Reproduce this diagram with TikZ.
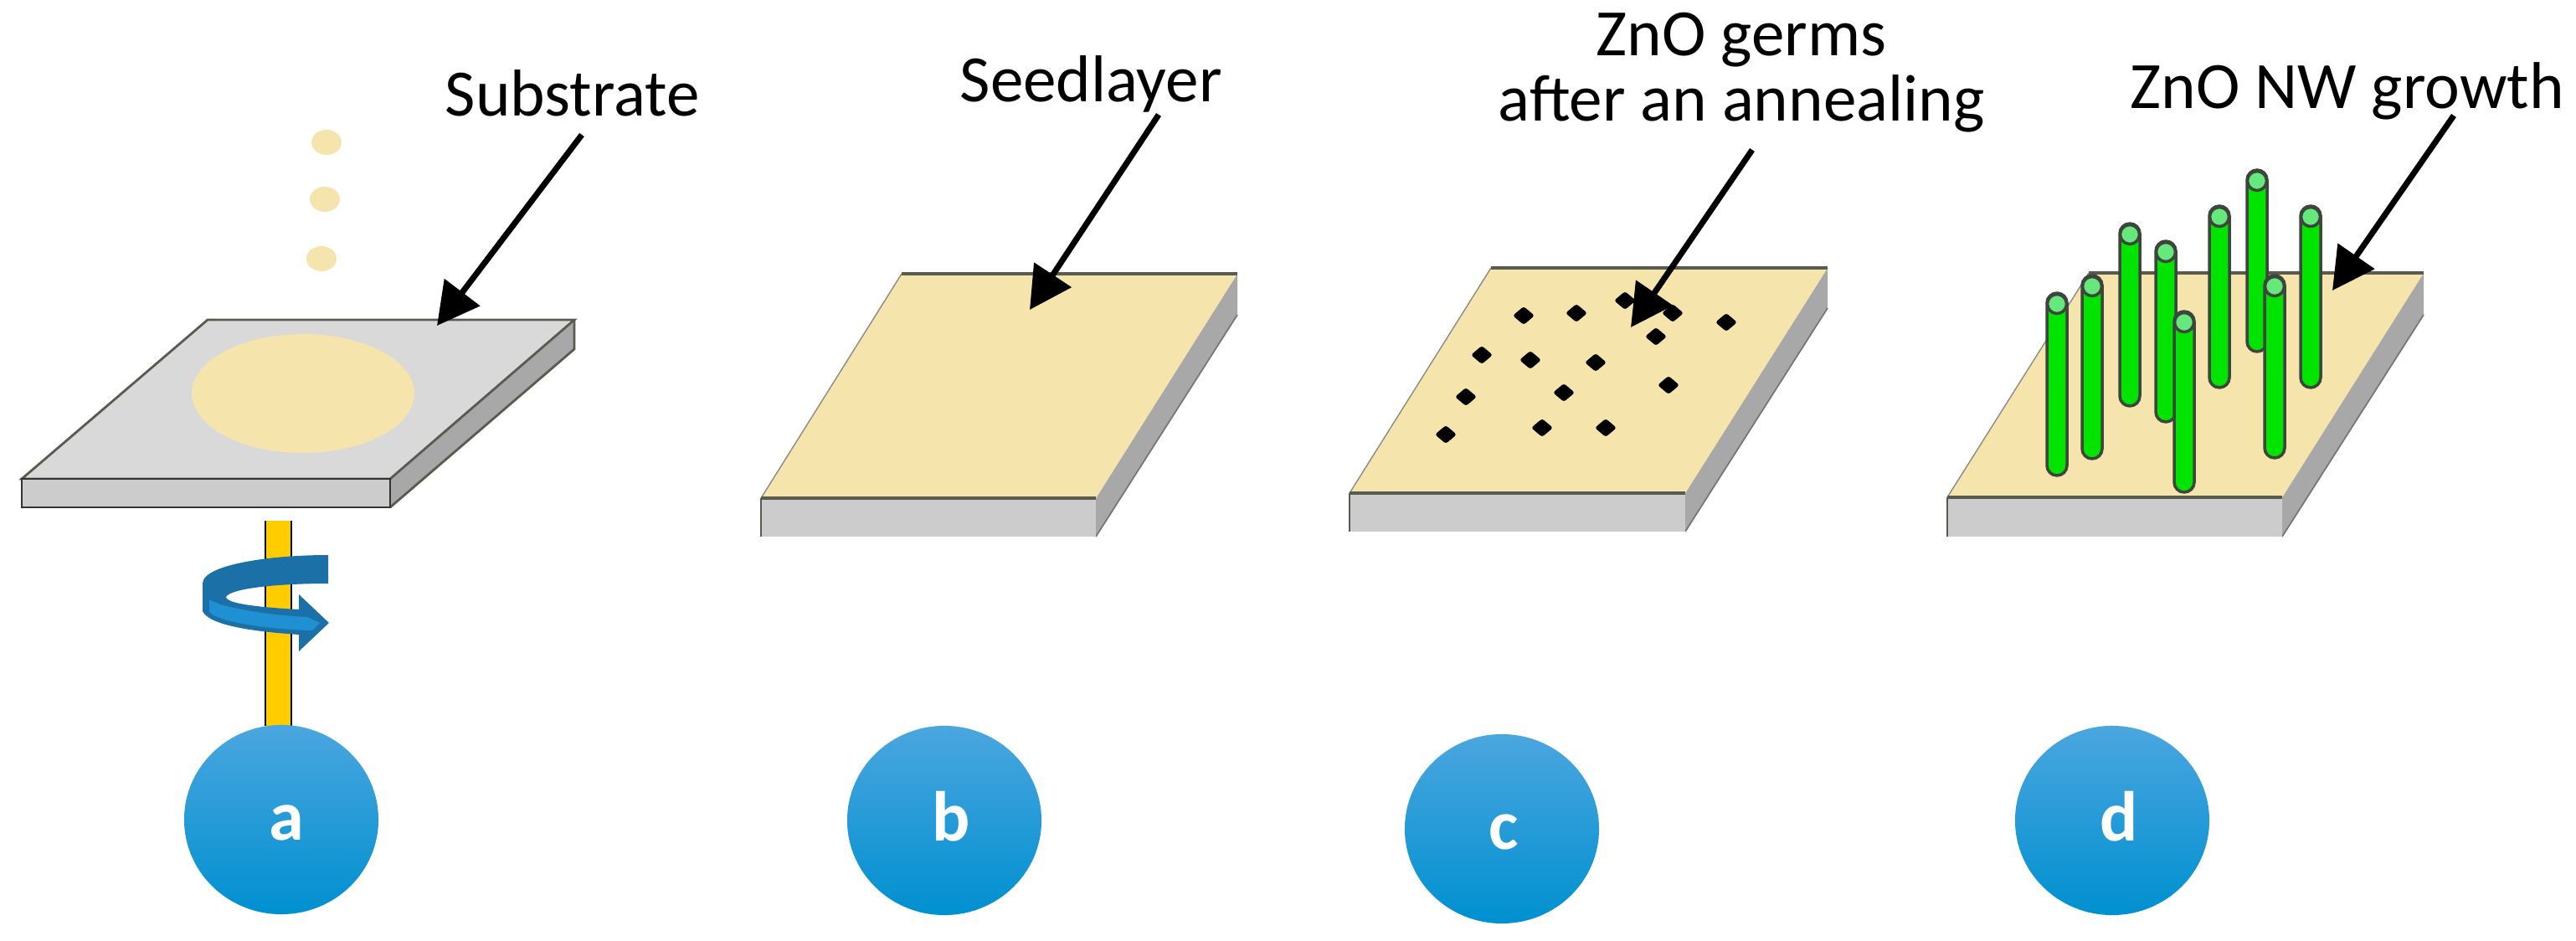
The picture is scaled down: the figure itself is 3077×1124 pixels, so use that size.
\documentclass[tikz,border=0pt]{standalone}
\usepackage{fontspec}
\setmainfont{Carlito}
\usetikzlibrary{arrows.meta,shapes.geometric}
\tikzset{>={Triangle[length=5mm,width=5.2mm]}}
\definecolor{seedyellow}{HTML}{F5E5AC}
\definecolor{slabtop}{HTML}{D9D9D9}
\definecolor{slabfront}{HTML}{CCCCCC}
\definecolor{slabside}{HTML}{A8A8A8}
\definecolor{slabedge}{HTML}{5A5A50}
\definecolor{rodyellow}{HTML}{FFCC00}
\definecolor{spindark}{HTML}{1C70A8}
\definecolor{spinlight}{HTML}{1F90D2}
\definecolor{wiregreen}{HTML}{00E400}
\definecolor{wirecap}{HTML}{66E87C}
\definecolor{wireedge}{HTML}{3C463C}
\definecolor{stepblue}{HTML}{009EDF}
\definecolor{steptop}{HTML}{4BA6DF}
\definecolor{stepbottom}{HTML}{0090D0}
\tikzset{
	pointer/.style={->,line width=2pt,color=black},
	caption/.style={inner sep=0pt,font=\fontsize{22.5}{22.5}\selectfont,color=black},
	stepball/.style={ellipse,inner sep=0pt,minimum width=2.32cm,minimum height=2.26cm,top color=steptop,middle color=stepblue,bottom color=stepbottom,text=white,text height=4.8mm,text depth=0pt,font=\fontsize{24}{24}\selectfont\bfseries},
	wire/.style={draw=wireedge,fill=wiregreen,line width=1pt,rounded corners=0.12cm},
	wiretip/.style={draw=wireedge,fill=wirecap,line width=1pt}
}

\begin{document}
\begin{tikzpicture}[x=0.01cm,y=-0.01cm]
	\useasboundingbox (0,0) rectangle (3077,1124);

	% rod under the first slab
	\fill [rodyellow] (317,622) rectangle (348,867);
	\draw [line width=0.8pt] (317,622) -- (317,867) (348,622) -- (348,867);

	% spin arrow
	\fill [spindark] (392,663) .. controls (320,663) and (242,675) .. (242,697) -- (242,730) .. controls (250,748) and (310,755) .. (357,758) -- (357,778) -- (393,744) -- (357,710) -- (357,728) .. controls (320,726) and (270,722) .. (270,713) .. controls (275,703) and (330,697) .. (392,697) -- cycle;
	\fill [spinlight] (250,716) .. controls (262,725) and (320,735) .. (367,737) -- (382,744) -- (373,753) .. controls (320,752) and (255,742) .. (250,730) -- cycle;

	% first slab, grey
	\fill [slabside] (466,572) -- (686,382) -- (686,417) -- (466,606) -- cycle;
	\draw [slabedge,line width=0.8pt] (466,606) -- (686,417) -- (686,382);
	\draw [slabedge,fill=slabtop,line width=0.8pt] (26,572) -- (248,382) -- (686,382) -- (466,572) -- cycle;
	\draw [black!80,fill=slabfront,line width=0.8pt] (26,572) rectangle (466,606);
	\fill [seedyellow] (362,470) ellipse [x radius=133,y radius=71];

	% falling drops
	\foreach \x/\y in {390/170,388/238,384/309}
		\fill [seedyellow] (\x,\y) ellipse [x radius=18,y radius=15];

	% the three coated slabs
	\foreach \xa/\xb/\xc/\xd/\ya/\yb/\yc/\yd in {1077/1478/909/1309/327/595/641/376,1781/2183/1612/2013/320/589/635/368,2495/2895/2326/2726/326/594/641/376} {
		\fill [slabside] (\xd,\yb) -- (\xb,\ya) -- (\xb,\yd) -- (\xd,\yc) -- cycle;
		\draw [slabside!70!black,line width=0.5pt] (\xd,\yc) -- (\xb,\yd);
		\fill [slabfront] (\xc,\yb) rectangle (\xd,\yc);
		\draw [slabedge,line width=0.8pt] (\xc,\yc) -- (\xc,\yb);
		\fill [seedyellow] (\xc,\yb) -- (\xa,\ya) -- (\xb,\ya) -- (\xd,\yb) -- cycle;
		\draw [slabedge!70!white,line width=0.4pt] (\xc,\yb) -- (\xa,\ya);
		\draw [slabedge,line width=1.1pt] (\xa,\ya) -- (\xb,\ya) (\xc,\yb) -- (\xd,\yb);
	}

	% germs
	\foreach \x/\y in {1941/359,1820/377,1883/374,1998/374,2062/385,1978/402,1770/424,1828/430,1906/433,1993/460,1751/474,1868/469,1727/519,1842/511,1918/511}
		\fill [rounded corners=0.03cm] (\x-13,\y) -- (\x,\y-11) -- (\x+13,\y) -- (\x,\y+11) -- cycle;

	% nanowires
	\foreach \x/\t/\b in {2457/350/568,2499/329/548,2544/267/485,2587/288/504,2609/372/588,2651/246/463,2696/203/420,2717/329/547,2760/246/463} {
		\draw [wire] (\x-12,\t) rectangle (\x+12,\b);
		\draw [wiretip] (\x,\t+13) circle [radius=11.5];
	}

	% captions
	\node [caption,anchor=base west] (substrate) at (531,138) {Substrate};
	\node [caption,anchor=base west] (seedlayer) at (1146,121) {Seedlayer};
	\node [caption,anchor=base] (germs) at (2080,66) {ZnO germs};
	\node [caption,anchor=base] (annealing) at (2080,144) {after an annealing};
	\node [caption,anchor=base west] (growth) at (2544,129) {ZnO NW growth};

	% arrows
	\coordinate (substratetail) at (695,161);
	\coordinate (substratetip) at (522,389);
	\coordinate (seedlayertail) at (1384,137);
	\coordinate (seedlayertip) at (1230,370);
	\coordinate (germstail) at (2093,179);
	\coordinate (germstip) at (1948,391);
	\coordinate (growthtail) at (2931,138);
	\coordinate (growthtip) at (2786,347);
	\draw [pointer] (substratetail) -- (substratetip);
	\draw [pointer] (seedlayertail) -- (seedlayertip);
	\draw [pointer] (germstail) -- (germstip);
	\draw [pointer] (growthtail) -- (growthtip);

	% step letters
	\node [stepball] (stepa) at (336,979) {\kern1.2mm a};
	\node [stepball] (stepb) at (1128,980) {\kern1.6mm b};
	\node [stepball] (stepc) at (1794,990) {\kern0.4mm c};
	\node [stepball] (stepd) at (2523,980) {\kern1.6mm d};
\end{tikzpicture}
\end{document}
